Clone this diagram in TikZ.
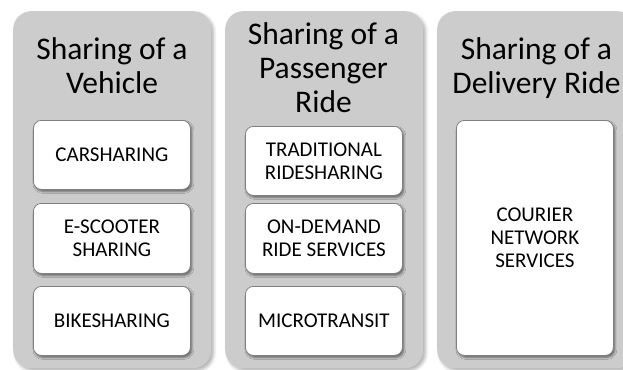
\documentclass[tikz,border=0pt]{standalone}
\usepackage{fontspec}
\setmainfont{Carlito}
\usetikzlibrary{shadows.blur}
\definecolor{colfill}{gray}{0.80}
\definecolor{boxline}{gray}{0.50}
\begin{document}
\begin{tikzpicture}[x=1pt,y=-1pt,
  column/.style={draw=none, fill=colfill, rounded corners=18pt,
    minimum width=198pt, minimum height=357pt, anchor=north west, inner sep=0pt,
    blur shadow={shadow xshift=2.5pt, shadow yshift=-2.5pt, shadow blur radius=3pt, shadow opacity=30}},
  item/.style={draw=boxline, line width=0.8pt, fill=white, rounded corners=8pt,
    minimum width=157pt, anchor=north west, inner sep=0pt, align=center,
    font=\fontsize{21}{23}\selectfont,
    blur shadow={shadow xshift=1.5pt, shadow yshift=-2pt, shadow blur radius=2pt, shadow opacity=50}},
  title/.style={anchor=north, inner sep=0pt, align=center,
    font=\fontsize{31.5}{34}\selectfont}
]
\useasboundingbox (0,0) rectangle (623,369);
\clip (0,0) rectangle (623,369);

% grey columns
\node[column] (col1) at (13,11) {};
\node[column] (col2) at (225,11) {};
\node[column] (col3) at (437,11) {};

% column headings
\node[title] (t1) at (112,37) {Sharing of a\\Vehicle};
\node[title] (t2) at (323.5,22) {Sharing of a\\Passenger\\Ride};
\node[title] (t3) at (536.5,37) {Sharing of a\\Delivery Ride};

% first column
\node[item, minimum height=69pt] (car) at (33,120) {CARSHARING};
\node[item, minimum height=70pt] (scoot) at (33,203) {E-SCOOTER\\SHARING};
\node[item, minimum height=69pt] (bike) at (33,286) {BIKESHARING};

% second column
\node[item, minimum height=69pt] (trad) at (245,126) {TRADITIONAL\\RIDESHARING};
\node[item, minimum height=70pt] (ondem) at (245,203) {ON-DEMAND\\RIDE SERVICES};
\node[item, minimum height=69pt] (micro) at (245,286) {MICROTRANSIT};

% third column
\node[item, minimum height=235pt] (courier) at (456,120) {COURIER\\NETWORK\\SERVICES};
\end{tikzpicture}
\end{document}
